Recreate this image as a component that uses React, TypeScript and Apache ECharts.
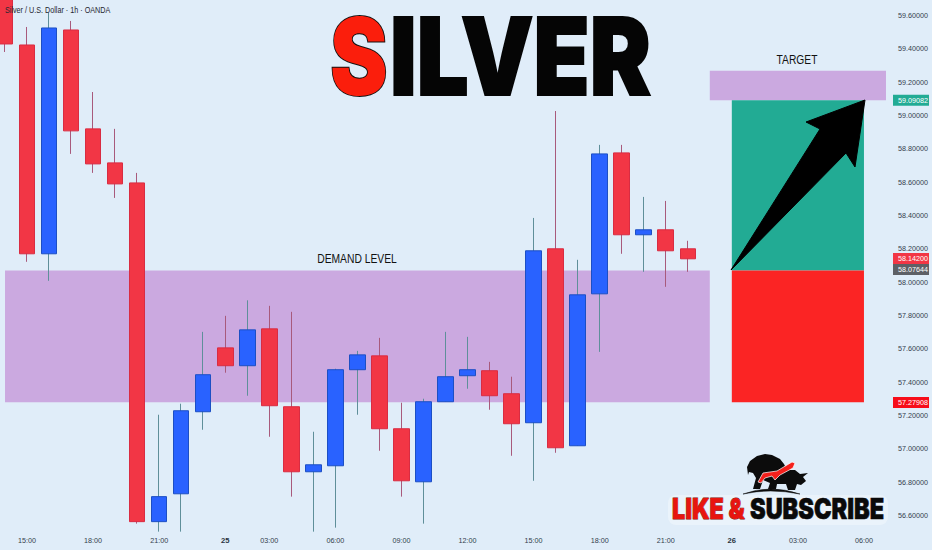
import React, { useEffect, useRef } from "react";
import * as echarts from "echarts";

const categories = ["14:00","15:00","16:00","17:00","18:00","19:00","20:00","21:00","22:00","23:00","25","02:00","03:00","04:00","05:00","06:00","07:00","08:00","09:00","10:00","11:00","12:00","13:00","14:00","15:00","16:00","17:00","18:00","19:00","20:00","21:00","22:00","23:00","26","01:00","02:00","03:00","04:00","05:00","06:00","07:00"];
const shownLabels = [1,4,7,10,12,15,18,21,24,27,30,33,36,39];
const opens  = [59.722,59.422,58.170,59.512,58.919,58.715,58.595,56.564,56.731,57.223,57.606,57.499,57.720,57.253,56.863,56.899,57.475,57.558,57.121,56.803,57.283,57.439,57.469,57.331,57.157,58.200,57.019,57.930,58.775,58.284,58.314,58.200];
const closes = [59.428,58.170,59.524,58.907,58.709,58.589,56.564,56.714,57.229,57.445,57.499,57.714,57.259,56.863,56.905,57.475,57.564,57.121,56.809,57.283,57.433,57.475,57.319,57.151,58.188,57.007,57.924,58.769,58.284,58.314,58.188,58.140];
const lows   = [59.380,58.122,58.008,58.769,58.655,58.505,56.552,56.504,56.504,57.115,57.457,57.319,57.073,56.714,56.504,56.528,57.205,56.989,56.714,56.552,57.283,57.361,57.235,56.959,56.809,56.977,57.019,57.582,58.170,58.062,57.972,58.062];
const highs  = [59.722,59.530,59.614,59.566,59.140,58.919,58.655,57.205,57.271,57.702,57.798,57.891,57.858,57.822,57.103,57.481,57.588,57.666,57.277,57.301,57.702,57.672,57.522,57.433,58.385,59.026,58.134,58.823,58.823,58.511,58.487,58.248];

const demandZone = [57.28, 58.07];
const targetZone = [59.09, 59.268];
const rewardBox = [58.07, 59.09];
const riskBox = [57.28, 58.07];
const yTickMin = 56.4;
const yTickMax = 59.6917;
const yTickStep = 0.2;
const priceTags = [59.09082, 58.142, 58.07644, 57.27908];
const tagColors = ["#22ab94", "#f23645", "#5d6066", "#f70d1a"];

const BEAR = "M747 467 L750 461 L757 456 L765 454 L772 455 L780 459 L784 464 L787 470 L795 470 L800 474 L808 473 L803 477 L806 481 L801 485 L797 484 L795 490 L788 490 L786 484 L777 484 L776 489 L768 489 L770 483 L763 480 L760 489 L753 489 L756 478 L753 473 L749 472 L748 475 Z";
const SWOOSH = "M758 482 L763 473 L777 471 L792 462 L795 463 L793 468 L780 475 L775 480 L772 476 L765 478 L761 483 Z";
const GROUND = "M743 494 Q770 484 800 494 Q770 488 743 494 Z";
echarts.graphic.registerShape("bearShape", echarts.graphic.extendPath(BEAR, {}));
echarts.graphic.registerShape("swooshShape", echarts.graphic.extendPath(SWOOSH, {}));
echarts.graphic.registerShape("groundShape", echarts.graphic.extendPath(GROUND, {}));

const SANS = "Liberation Sans, sans-serif";
const HEAVY = "Inter, Noto Sans, sans-serif";
const AXIS_TEXT = "#333d4c";
const TICK_SIZE = 7.2;

export default function App() {
  const ref = useRef<HTMLDivElement>(null);
  useEffect(() => {
    const chart = echarts.init(ref.current!, undefined, { renderer: "svg" });
    chart.setOption({
      animation: false,
      backgroundColor: "#e0edf9",
      grid: { left: -6, right: 35, top: 0, bottom: 1, outerBoundsMode: "none" },
      xAxis: {
        type: "category",
        data: categories,
        axisLine: { show: false },
        axisTick: { show: false },
        splitLine: { show: false },
        axisLabel: {
          inside: true,
          interval: 0,
          margin: 5,
          hideOverlap: false,
          fontFamily: SANS,
          fontSize: TICK_SIZE,
          color: AXIS_TEXT,
          formatter: (v: string, i: number) =>
            !shownLabels.includes(i) ? "" : v.length === 2 ? `{b|${v}}` : v,
          rich: { b: { fontFamily: SANS, fontSize: 7.6, fontWeight: "bold", color: "#2a3340" } },
        },
      },
      yAxis: {
        type: "value",
        position: "right",
        min: yTickMin,
        max: yTickMax,
        interval: yTickStep,
        scale: true,
        axisLine: { show: false },
        axisTick: { show: false },
        splitLine: { show: false },
        axisLabel: {
          margin: 1,
          fontFamily: SANS,
          fontSize: TICK_SIZE,
          color: AXIS_TEXT,
          showMinLabel: false,
          showMaxLabel: false,
          formatter: (v: number) => v.toFixed(5),
        },
      },
      series: [
        {
          type: "line",
          data: [],
          z: 1,
          silent: true,
          markArea: {
            silent: true,
            data: [
              [{ xAxis: 0, yAxis: demandZone[0], itemStyle: { color: "#cba9e0" } }, { xAxis: 32, yAxis: demandZone[1] }],
              [{ xAxis: 32, yAxis: targetZone[0], itemStyle: { color: "#cba9e0" } }, { xAxis: 40, yAxis: targetZone[1] }],
              [{ xAxis: 33, yAxis: rewardBox[0], itemStyle: { color: "#22ab94" } }, { xAxis: 39, yAxis: rewardBox[1] }],
              [{ xAxis: 33, yAxis: riskBox[0], itemStyle: { color: "#fb2424" } }, { xAxis: 39, yAxis: riskBox[1] }],
            ],
          },
        },
        {
          type: "candlestick",
          z: 2,
          barWidth: 1,
          data: opens.map((o, i) => [o, closes[i], lows[i], highs[i]]),
          itemStyle: { color: "#5f8f9a", color0: "#a85a7c", borderColor: "#5f8f9a", borderColor0: "#a85a7c", borderWidth: 1 },
        },
        {
          type: "candlestick",
          z: 3,
          barWidth: 16,
          data: opens.map((o, i) => [o, closes[i], Math.min(o, closes[i]), Math.max(o, closes[i])]),
          itemStyle: { color: "#2962ff", color0: "#f23645", borderColor: "#1c4fc4", borderColor0: "#d92c42", borderWidth: 1 },
        },
        {
          type: "custom",
          z: 6,
          silent: true,
          clip: false,
          data: priceTags.map((p) => [0, p]),
          encode: { x: 0, y: 1 },
          renderItem: (params: any, api: any) => {
            const y = api.coord([0, api.value(1)])[1];
            return {
              type: "group",
              children: [
                { type: "rect", shape: { x: 893, y: y - 5.5, width: 36, height: 11 }, style: { fill: tagColors[params.dataIndex] } },
                {
                  type: "text",
                  style: {
                    x: 898, y, text: api.value(1).toFixed(5), fill: "#ffffff",
                    fontFamily: SANS, fontSize: TICK_SIZE, textAlign: "left", textVerticalAlign: "middle",
                  },
                },
              ],
            };
          },
        },
      ],
      graphic: [
        { type: "text", z: 10, x: 5, y: 10, scaleX: 0.76, style: { x: 0, y: 0, text: "Silver / U.S. Dollar · 1h · OANDA", fill: "#1f2630", fontFamily: SANS, fontSize: 9.5, textVerticalAlign: "middle" } },
        { type: "text", z: 10, x: 357, y: 259, scaleX: 0.825, style: { x: 0, y: 0, text: "DEMAND LEVEL", fill: "#111111", fontFamily: SANS, fontSize: 12.5, textAlign: "center", textVerticalAlign: "middle" } },
        { type: "text", z: 10, x: 797, y: 60, scaleX: 0.82, style: { x: 0, y: 0, text: "TARGET", fill: "#111111", fontFamily: SANS, fontSize: 12.5, textAlign: "center", textVerticalAlign: "middle" } },
        { type: "text", z: 10, x: 330, y: 56, scaleX: 0.81, style: { x: 0, y: 0, text: "S", fill: "#fb1e0c", stroke: "#111111", lineWidth: 2, fontFamily: HEAVY, fontWeight: 900, fontSize: 107, textVerticalAlign: "middle" } },
        { type: "text", z: 10, x: 390, y: 56, scaleX: 0.857, style: { x: 0, y: 0, text: "ILVER", fill: "#050505", stroke: "#050505", lineWidth: 2, fontFamily: HEAVY, fontWeight: 900, fontSize: 107, textVerticalAlign: "middle" } },
        {
          type: "polygon", z: 8,
          shape: { points: [[731, 270], [820, 129], [806, 122], [865, 100], [855, 167], [846, 153]] },
          style: { fill: "#000000", stroke: "#000000", lineWidth: 1, lineJoin: "round" },
        },
        { type: "rect", z: 8, shape: { x: 668, y: 495, width: 220, height: 30, r: 8 }, style: { fill: "rgba(240,246,252,0.6)" } },
        { type: "bearShape", z: 9, x: 0, y: 0, style: { fill: "#0c0c0c" } },
        { type: "swooshShape", z: 10, x: 0, y: 0, style: { fill: "#f5201c", stroke: "#ffffff", lineWidth: 0.7 } },
        { type: "groundShape", z: 9, x: 0, y: 0, style: { fill: "#0c0c0c", stroke: "#0c0c0c", lineWidth: 0.5 } },
        { type: "text", z: 10, x: 672, y: 509, scaleX: 0.83, style: { x: 0, y: 0, text: "LIKE &", fill: "#e8150f", stroke: "#7a0e0a", lineWidth: 0.8, fontFamily: HEAVY, fontWeight: 900, fontSize: 28, textVerticalAlign: "middle" } },
        { type: "text", z: 10, x: 750, y: 509, scaleX: 0.84, style: { x: 0, y: 0, text: "SUBSCRIBE", fill: "#0a0a0a", stroke: "#0a0a0a", lineWidth: 0.6, fontFamily: HEAVY, fontWeight: 900, fontSize: 28, textVerticalAlign: "middle" } },
      ],
    });
    return () => chart.dispose();
  }, []);
  return <div ref={ref} style={{ width: 932, height: 550, position: "fixed", left: 0, top: 0 }} />;
}
